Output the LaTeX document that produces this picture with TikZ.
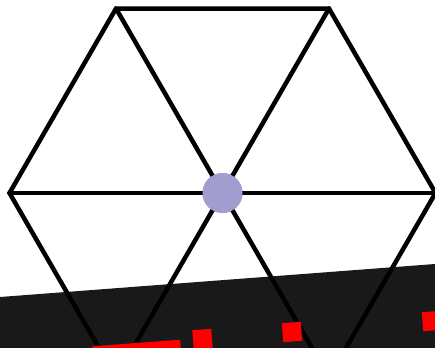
\documentclass[tikz,border=0pt]{standalone}
\usetikzlibrary{calc}
\definecolor{hubblue}{RGB}{161,157,206}
\tikzset{
    edge/.style={line width=4.5pt, line join=miter, line cap=round},
    hub/.style={circle, fill=hubblue, minimum size=40pt, inner sep=0pt},
    reddash/.style={fill=red, inner sep=0pt, rotate=4.3}
}
\begin{document}
\begin{tikzpicture}[x=1pt,y=-1pt]
    \clip (0,0) rectangle (435,347);
    \node[hub] (h) at (222.5,193) {};
    \foreach \ang in {0,60,...,300}{
        \coordinate (v\ang) at ($(h.center)+(\ang:213)$);
    }
    % outline and spokes
    \draw[edge] (v0) -- (v60) -- (v120) -- (v180) -- (v240) -- (v300) -- cycle;
    \foreach \ang in {0,60,...,300}{
        \draw[edge] (h.center) -- (v\ang);
    }
    \node[hub] at (h) {};
    % road band
    \fill[black, fill opacity=0.9] (0,297) -- (435,264) -- (440,360) -- (0,360) -- cycle;
    \node[reddash, minimum width=88pt, minimum height=20pt] (d0) at (137,353) {};
    \node[reddash, minimum size=19pt] (d1) at (202.5,339) {};
    \node[reddash, minimum size=19pt] (d2) at (292,332) {};
    \node[reddash, minimum size=19pt] (d3) at (432,321) {};
\end{tikzpicture}
\end{document}
